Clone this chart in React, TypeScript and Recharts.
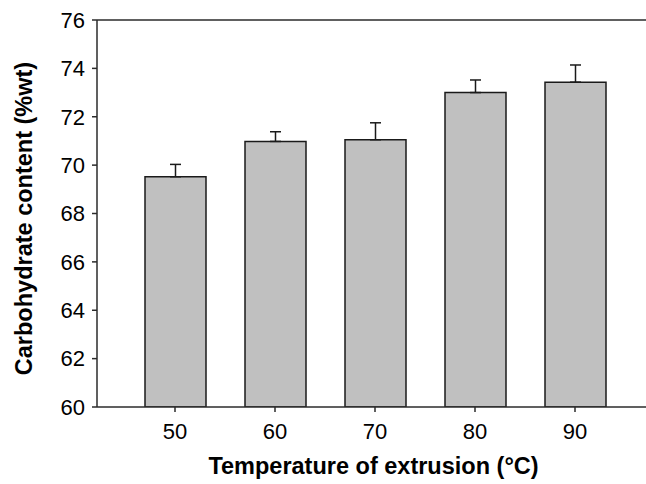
import { Bar, BarChart, ErrorBar, Label, ReferenceLine, XAxis, YAxis } from "recharts";

const temps = ["50", "60", "70", "80", "90"];
const carbohydrate = [69.52, 70.98, 71.05, 73.0, 73.43];
const errUpper = [0.51, 0.4, 0.7, 0.52, 0.71];
const yTicks = [60, 62, 64, 66, 68, 70, 72, 74, 76];

const data = temps.map((t, i) => ({
  temp: t,
  value: carbohydrate[i],
  err: [0, errUpper[i]],
}));

const FONT = "'Liberation Sans', Arial, sans-serif";
const AXIS = "#2b2b2b";

// rotated y title, centred on the plot height
function YTitle(props: any) {
  const vb = props.viewBox;
  const cy = vb.y + vb.height / 2 + 5;
  return (
    <text
      x={24}
      y={cy}
      transform={`rotate(-90, 24, ${cy})`}
      textAnchor="middle"
      dominantBaseline="central"
      fontFamily={FONT}
      fontWeight="bold"
      fontSize={23.5}
      fill="#000"
    >
      Carbohydrate content (%wt)
    </text>
  );
}

function XTitle(props: any) {
  const vb = props.viewBox;
  return (
    <text
      x={vb.x + vb.width / 2 + 2}
      y={474}
      textAnchor="middle"
      fontFamily={FONT}
      fontWeight="bold"
      fontSize={23.5}
      fill="#000"
    >
      Temperature of extrusion (°C)
    </text>
  );
}

export default function App() {
  return (
    <div style={{ position: "absolute", left: 0, top: 0, width: 646, height: 484, background: "#fff" }}>
      <BarChart width={646} height={484} data={data} margin={{ top: 20, right: 0, left: 0, bottom: 0 }}>
        <XAxis
          dataKey="temp"
          height={77}
          padding={{ left: 28, right: 21 }}
          axisLine={{ stroke: AXIS, strokeWidth: 1.5 }}
          tickLine={{ stroke: AXIS, strokeWidth: 1.5 }}
          tickSize={5}
          tickMargin={11}
          tick={{ fill: "#000", fontSize: 22, fontFamily: FONT }}
        >
          <Label content={<XTitle />} />
        </XAxis>
        <YAxis
          width={97}
          domain={[60, 76]}
          ticks={yTicks}
          allowDataOverflow
          axisLine={{ stroke: AXIS, strokeWidth: 1.5 }}
          tickLine={{ stroke: AXIS, strokeWidth: 1.5 }}
          tickSize={5}
          tickMargin={7}
          tick={{ fill: "#000", fontSize: 22, fontFamily: FONT }}
        >
          <Label content={<YTitle />} />
        </YAxis>
        <ReferenceLine y={76} stroke={AXIS} strokeWidth={1.5} />
        <Bar dataKey="value" barSize={61} fill="#c0c0c0" stroke="#1a1a1a" strokeWidth={1.5} isAnimationActive={false}>
          <ErrorBar dataKey="err" width={5.5} stroke="#1a1a1a" strokeWidth={1.5} direction="y" />
        </Bar>
      </BarChart>
    </div>
  );
}
